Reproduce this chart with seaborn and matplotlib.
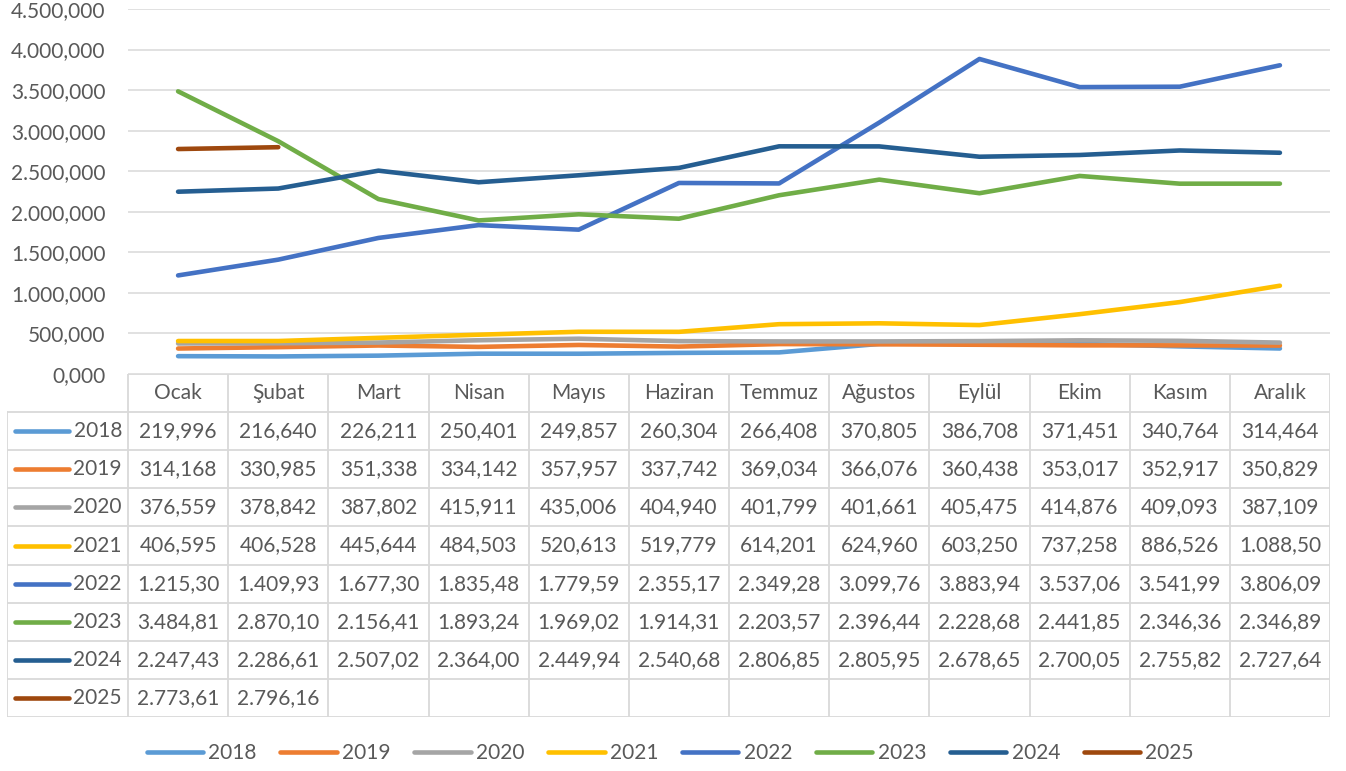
import pandas as pd
import seaborn as sns
import matplotlib.pyplot as plt


months = ["Ocak", "Şubat", "Mart", "Nisan", "Mayıs", "Haziran",
          "Temmuz", "Ağustos", "Eylül", "Ekim", "Kasım", "Aralık"]
years = ["2018", "2019", "2020", "2021", "2022", "2023", "2024", "2025"]

v2018 = [219.996, 216.640, 226.211, 250.401, 249.857, 260.304,
         266.408, 370.805, 386.708, 371.451, 340.764, 314.464]
v2019 = [314.168, 330.985, 351.338, 334.142, 357.957, 337.742,
         369.034, 366.076, 360.438, 353.017, 352.917, 350.829]
v2020 = [376.559, 378.842, 387.802, 415.911, 435.006, 404.940,
         401.799, 401.661, 405.475, 414.876, 409.093, 387.109]
v2021 = [406.595, 406.528, 445.644, 484.503, 520.613, 519.779,
         614.201, 624.960, 603.250, 737.258, 886.526, 1088.50]
v2022 = [1215.30, 1409.93, 1677.30, 1835.48, 1779.59, 2355.17,
         2349.28, 3099.76, 3883.94, 3537.06, 3541.99, 3806.09]
v2023 = [3484.81, 2870.10, 2156.41, 1893.24, 1969.02, 1914.31,
         2203.57, 2396.44, 2228.68, 2441.85, 2346.36, 2346.89]
v2024 = [2247.43, 2286.61, 2507.02, 2364.00, 2449.94, 2540.68,
         2806.85, 2805.95, 2678.65, 2700.05, 2755.82, 2727.64]
v2025 = [2773.61, 2796.16]

series = [v2018, v2019, v2020, v2021, v2022, v2023, v2024, v2025]
colors = ["#5B9BD5", "#ED7D31", "#A5A5A5", "#FFC000",
          "#4472C4", "#70AD47", "#255E91", "#9E480E"]

TEXT = "#595959"
GRID = "#D9D9D9"
FS = 15
LW = 3.3


def tr_fmt(v, dec):
    # Turkish style: '.' thousands, ',' decimals
    s = f"{v:,.{dec}f}"
    return s.replace(",", "X").replace(".", ",").replace("X", ".")


def cell_text(v):
    if v < 1000:
        return tr_fmt(v, 3)
    return tr_fmt(v, 2)


rows = []
for year, vals in zip(years, series):
    for i, v in enumerate(vals):
        rows.append([year, i, v])
df = pd.DataFrame(rows, columns=["Yıl", "Ay", "Değer"])

sns.set_theme(style="white")
plt.rcParams["font.family"] = ["Lato", "DejaVu Sans"]

W, H = 1346, 771
fig = plt.figure(figsize=(W / 100, H / 100), dpi=100)

# Main chart area
x0, x1 = 128, 1330
y_top, y_bot = 9, 374
ax = fig.add_axes([x0 / W, 1 - y_bot / H, (x1 - x0) / W, (y_bot - y_top) / H])
sns.lineplot(data=df, x="Ay", y="Değer", hue="Yıl", hue_order=years,
             palette=colors, linewidth=LW, errorbar=None, legend=False,
             solid_capstyle="round", ax=ax)
ax.set(xlim=(-0.5, 11.5), ylim=(0, 4500), xlabel="", ylabel="")
ax.set_xticks([])
ticks = list(range(0, 4501, 500))
ax.set_yticks(ticks)
ax.set_yticklabels([tr_fmt(t, 3) for t in ticks], fontsize=FS, color=TEXT)
ax.tick_params(axis="y", length=0, pad=16)
ax.yaxis.grid(True, color=GRID, linewidth=1.1)
ax.set_axisbelow(True)
for sp in ax.spines.values():
    sp.set_visible(False)

# Data table below the chart
t_left = 7
t_bot = 717
left_x = -0.5 - (x0 - t_left) / ((x1 - x0) / 12)
tab = fig.add_axes([t_left / W, 1 - t_bot / H, (x1 - t_left) / W,
                    (t_bot - y_bot) / H])
tab.set_xlim(left_x, 11.5)
tab.set_ylim(9, 0)
tab.axis("off")

blw = 1.3
for k in range(13):
    tab.plot([k - 0.5, k - 0.5], [0, 9], color=GRID, lw=blw)
tab.plot([-0.5, 11.5], [0, 0], color=GRID, lw=blw)
for r in range(1, 10):
    tab.plot([left_x, 11.5], [r, r], color=GRID, lw=blw)
tab.plot([left_x, left_x], [1, 9], color=GRID, lw=blw)

for k, m in enumerate(months):
    tab.text(k, 0.5, m, ha="center", va="center", fontsize=FS, color=TEXT)

for r, (year, vals, c) in enumerate(zip(years, series, colors), start=1):
    tab.plot([left_x + 0.075, left_x + 0.62], [r + 0.5, r + 0.5],
             color=c, lw=LW, solid_capstyle="round")
    tab.text(-0.56, r + 0.5, year, ha="right", va="center",
             fontsize=FS, color=TEXT)
    for k, v in enumerate(vals):
        tab.text(k, r + 0.5, cell_text(v), ha="center", va="center",
                 fontsize=FS, color=TEXT)

# Legend at the bottom
fig.legend(handles=ax.get_lines()[:len(years)], labels=years,
           loc="center", bbox_to_anchor=(0.498, 1 - 753 / H), ncol=8,
           frameon=False, fontsize=FS, labelcolor=TEXT,
           handlelength=2.7, handletextpad=0.25, columnspacing=1.15)

fig.savefig("out.png", dpi=100)
